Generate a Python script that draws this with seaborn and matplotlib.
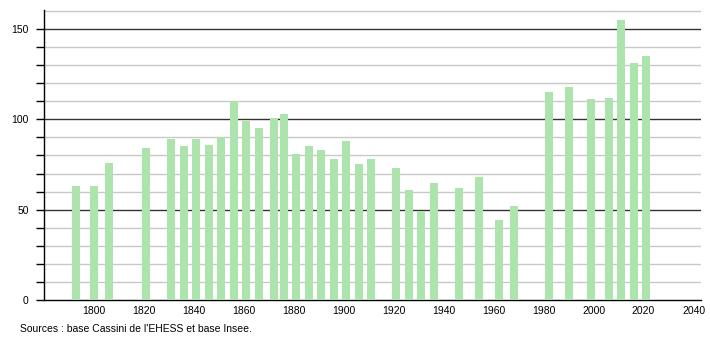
import matplotlib
matplotlib.use("Agg")
import matplotlib.pyplot as plt
import seaborn as sns
import pandas as pd

years = [1793, 1800, 1806, 1821, 1831, 1836, 1841, 1846, 1851, 1856, 1861, 1866,
         1872, 1876, 1881, 1886, 1891, 1896, 1901, 1906, 1911, 1921, 1926, 1931,
         1936, 1946, 1954, 1962, 1968, 1982, 1990, 1999, 2006, 2011, 2016, 2021]
population = [63, 63, 76, 84, 89, 85, 89, 86, 90, 110, 99, 95,
              101, 103, 81, 85, 83, 78, 88, 75, 78, 73, 61, 49,
              65, 62, 68, 44, 52, 115, 118, 111, 112, 155, 131, 135]
x_ticks = [1800, 1820, 1840, 1860, 1880, 1900, 1920, 1940, 1960, 1980, 2000, 2020, 2040]
y_labels = [0, 50, 100, 150]
source = "Sources : base Cassini de l'EHESS et base Insee."

sns.set_style("white")
plt.rcParams['font.family'] = ['Liberation Sans', 'DejaVu Sans']
plt.rcParams['text.color'] = 'black'
plt.rcParams['xtick.color'] = 'black'
plt.rcParams['ytick.color'] = 'black'

df = pd.DataFrame({"year": years, "pop": population})

fig = plt.figure(figsize=(7.1, 3.4), dpi=100)
ax = fig.add_axes([44 / 710, 40 / 340, (701 - 44) / 710, 290 / 340])

sns.barplot(data=df, x="year", y="pop", native_scale=True, width=0.8,
            color="#ade3ad", saturation=1, edgecolor="none", ax=ax, zorder=3)

ax.set_xlim(1780, 2043)
ax.set_ylim(0, 160.5)

for v in range(10, 161, 10):
    if v % 50 == 0:
        ax.axhline(v, color="#333333", lw=1.0, zorder=1)
    else:
        ax.axhline(v, color="#c8c8c8", lw=1.0, zorder=1)

ax.set_yticks(list(range(0, 151, 10)))
ax.set_yticklabels([str(v) if v in y_labels else "" for v in range(0, 151, 10)],
                   fontsize=7.5, color="black")
ax.tick_params(axis="y", length=6, width=1, color="black", pad=5, left=True)
ax.set_xticks(x_ticks)
ax.set_xticklabels([str(t) for t in x_ticks], fontsize=7.5, color="black")
ax.tick_params(axis="x", length=0, pad=4)

ax.set_xlabel("")
ax.set_ylabel("")
for s in ["top", "right"]:
    ax.spines[s].set_visible(False)
ax.spines["left"].set_color("black")
ax.spines["bottom"].set_color("black")
ax.spines["left"].set_linewidth(1)
ax.spines["bottom"].set_linewidth(1)

fig.text(20 / 710, 1 - 329 / 340, source, fontsize=7.5, va="center", ha="left",
         color="black")

fig.savefig("out.png", dpi=100, facecolor="white")
